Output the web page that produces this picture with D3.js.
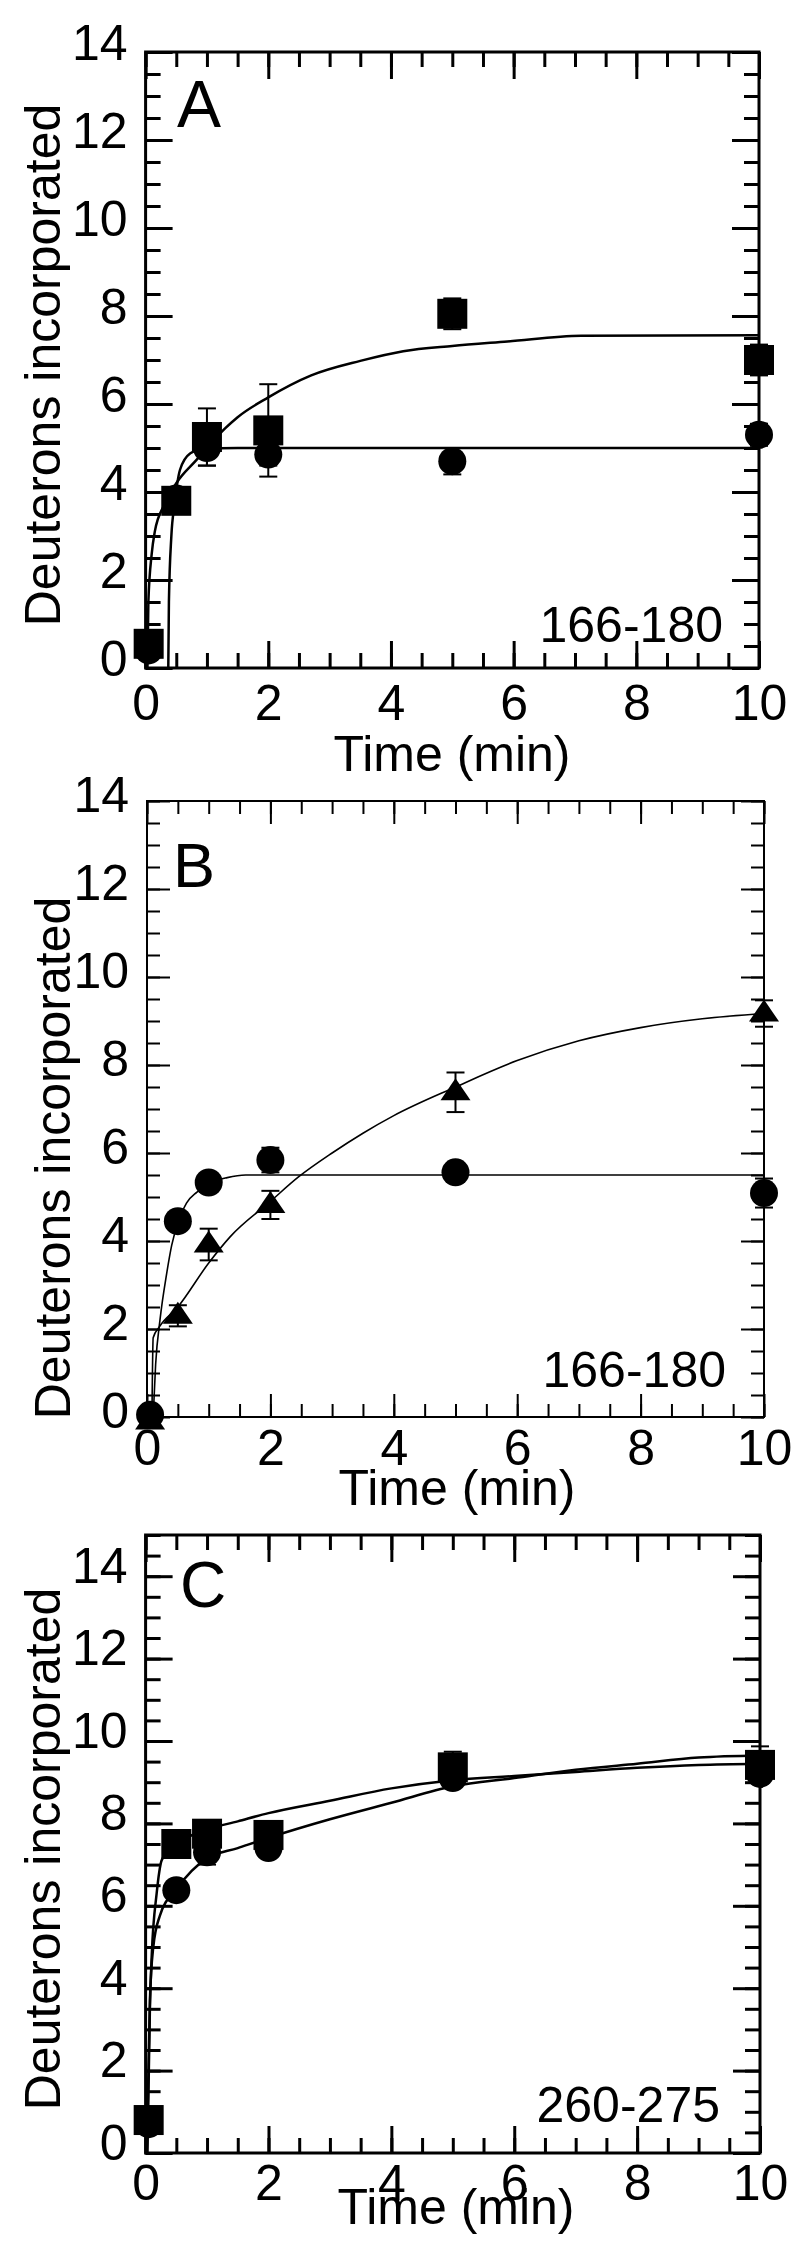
<!DOCTYPE html>
<html>
<head>
<meta charset="utf-8">
<script src="https://cdn.jsdelivr.net/npm/d3@7"></script>
<style>
  body { margin: 0; background: #fff; }
  text { font-family: "Liberation Sans", Arial, Helvetica, sans-serif; fill: #000; }
</style>
</head>
<body>
<div id="chart"></div>
<script>
// ---- data ----
const xTickLabels = [0, 2, 4, 6, 8, 10];
const yTickLabels = [0, 2, 4, 6, 8, 10, 12, 14];

// panel A (166-180)
const timesA = [0.05, 0.5, 1, 2, 5, 10];
const squareA = [0.55, 3.8, 5.25, 5.4, 8.05, 7.0];
const squareAErr = [0.3, 0.25, 0.65, 1.05, 0.35, 0.35];
const circleA = [0.4, 3.85, 5.0, 4.85, 4.7, 5.3];
const circleAErr = [0.2, 0.2, 0.4, 0.25, 0.3, 0.25];
const fitSquareA = [[0.03, 0], [0.045, 1.5], [0.1, 2.6], [0.15, 3.1], [0.3, 3.7], [0.5, 4.2], [0.83, 4.73],
  [1.0, 5.0], [1.3, 5.45], [1.5, 5.7], [2.0, 6.15], [2.7, 6.65], [3.5, 6.98], [4.2, 7.2], [5.0, 7.32],
  [5.9, 7.42], [7.1, 7.55], [10, 7.56]];
const fitCircleA = [[0.37, 0], [0.38, 1.5], [0.42, 3.0], [0.47, 3.7], [0.56, 4.5], [0.73, 4.88],
  [0.94, 4.98], [1.5, 5.0], [10, 5.0]];

// panel B (166-180)
const timesB = [0.05, 0.5, 1, 2, 5, 10];
const circleB = [0.05, 4.45, 5.33, 5.84, 5.56, 5.09];
const circleBErr = [0.1, 0.12, 0.1, 0.28, 0.1, 0.33];
const triangleB = [-0.1, 2.3, 3.92, 4.82, 7.38, 9.17];
const triangleBErr = [0.15, 0.24, 0.36, 0.32, 0.45, 0.3];
const fitCircleB = [[0.1, 0], [0.14, 1.2], [0.21, 2.2], [0.32, 3.27], [0.4, 3.9], [0.5, 4.4], [0.64, 4.86],
  [0.81, 5.11], [1.0, 5.3], [1.3, 5.44], [1.6, 5.5], [10, 5.5]];
const fitTriangleB = [[0.08, 0], [0.1, 1.8], [0.2, 2.05], [0.5, 2.5], [1.0, 3.5], [1.35, 4.1], [2.0, 4.9],
  [2.45, 5.45], [3.0, 6.0], [3.5, 6.45], [4.0, 6.85], [5.0, 7.5], [6.0, 8.1], [7.0, 8.55], [8.0, 8.85],
  [9.0, 9.05], [10, 9.17]];

// panel C (260-275)
const timesC = [0.05, 0.5, 1, 2, 5, 10];
const squareC = [0.8, 7.5, 7.75, 7.72, 9.36, 9.42];
const squareCErr = [0.2, 0.25, 0.3, 0.3, 0.38, 0.45];
const circleC = [0.7, 6.38, 7.3, 7.4, 9.1, 9.2];
const circleCErr = [0.15, 0.15, 0.3, 0.2, 0.2, 0.2];
const fitSquareC = [[0.03, 0], [0.045, 1.3], [0.07, 3.5], [0.1, 4.8], [0.18, 6.3], [0.26, 7.1], [0.4, 7.4],
  [0.6, 7.6], [1.0, 7.85], [1.5, 8.05], [2.0, 8.25], [3.0, 8.55], [4.0, 8.85], [5.0, 9.05], [6.0, 9.15],
  [7.0, 9.25], [8.0, 9.35], [9.0, 9.42], [10, 9.45]];
const fitCircleC = [[0.02, 0], [0.04, 1.5], [0.07, 3.7], [0.125, 5.0], [0.23, 5.75], [0.5, 6.4], [0.75, 6.85],
  [1.0, 7.15], [1.5, 7.4], [2.0, 7.65], [3.0, 8.1], [4.0, 8.5], [5.0, 8.9], [6.0, 9.1], [7.0, 9.3],
  [8.0, 9.45], [9.0, 9.6], [10, 9.65]];

// ---- layout ----
const width = 800, height = 2260;
const svg = d3.select("#chart").append("svg")
    .attr("width", width)
    .attr("height", height);

const panels = [
  { letter: "A", peptide: "166-180", left: 145.6, right: 759, top: 52, bottom: 668, yMax: 14,
    frameW: 3, tickW: 3, major: 27, minor: 15, curveW: 2.5,
    xLabelY: 52, yLabelY: 7, titleX: 452, titleY: 771, yTitleX: 60, yTitleY: 365,
    letterX: 177, letterY: 127, letterSize: 66, pepX: 723, pepY: 642,
    fits: [fitSquareA, fitCircleA],
    series: [
      { shape: "circle", times: timesA, values: circleA, err: circleAErr },
      { shape: "square", times: timesA, values: squareA, err: squareAErr }
    ] },
  { letter: "B", peptide: "166-180", left: 147, right: 764, top: 801, bottom: 1417, yMax: 14,
    frameW: 2, tickW: 2, major: 23, minor: 13, curveW: 1.6,
    xLabelY: 48, yLabelY: 10, titleX: 457, titleY: 1505, yTitleX: 70, yTitleY: 1158,
    letterX: 173, letterY: 887, letterSize: 63, pepX: 726, pepY: 1387,
    fits: [fitCircleB, fitTriangleB],
    series: [
      { shape: "triangle", times: timesB, values: triangleB, err: triangleBErr },
      { shape: "circle", times: timesB, values: circleB, err: circleBErr }
    ] },
  { letter: "C", peptide: "260-275", left: 145.6, right: 760, top: 1535, bottom: 2153, yMax: 15,
    frameW: 3, tickW: 3, major: 27, minor: 15, curveW: 2.5,
    xLabelY: 47, yLabelY: 6, titleX: 456, titleY: 2224, yTitleX: 60, yTitleY: 1849,
    letterX: 180, letterY: 1607, letterSize: 64, pepX: 720, pepY: 2122,
    fits: [fitSquareC, fitCircleC],
    series: [
      { shape: "circle", times: timesC, values: circleC, err: circleCErr },
      { shape: "square", times: timesC, values: squareC, err: squareCErr }
    ] }
];

const minorStep = 0.5;

function styleAxis(sel, w) {
    sel.select(".domain").remove();
    sel.selectAll(".tick line").attr("stroke", "#000").attr("stroke-width", w);
    sel.selectAll("text").style("font-size", "50px").attr("fill", "#000");
}

function drawMarker(g, shape, cx, cy) {
    if (shape === "square") {
        g.append("rect").attr("x", cx - 15).attr("y", cy - 15)
            .attr("width", 30).attr("height", 30).attr("fill", "#000");
    } else if (shape === "circle") {
        g.append("circle").attr("cx", cx).attr("cy", cy).attr("r", 14).attr("fill", "#000");
    } else {
        g.append("path")
            .attr("d", `M${cx},${cy - 14}L${cx + 15},${cy + 8}L${cx - 15},${cy + 8}Z`)
            .attr("fill", "#000");
    }
}

function drawPanel(p) {
    const x = d3.scaleLinear().domain([0, 10]).range([p.left, p.right]);
    const y = d3.scaleLinear().domain([0, p.yMax]).range([p.bottom, p.top]);
    const g = svg.append("g");

    const minorX = d3.range(0, 10 + 1e-9, minorStep);
    const minorY = d3.range(0, p.yMax + 1e-9, minorStep);

    // minor ticks on all four sides (pointing inward)
    g.append("g").attr("transform", `translate(0,${p.bottom})`)
        .call(d3.axisBottom(x).tickValues(minorX).tickSize(-p.minor).tickFormat(""))
        .call(s => styleAxis(s, p.tickW));
    g.append("g").attr("transform", `translate(0,${p.top})`)
        .call(d3.axisTop(x).tickValues(minorX).tickSize(-p.minor).tickFormat(""))
        .call(s => styleAxis(s, p.tickW));
    g.append("g").attr("transform", `translate(${p.left},0)`)
        .call(d3.axisLeft(y).tickValues(minorY).tickSize(-p.minor).tickFormat(""))
        .call(s => styleAxis(s, p.tickW));
    g.append("g").attr("transform", `translate(${p.right},0)`)
        .call(d3.axisRight(y).tickValues(minorY).tickSize(-p.minor).tickFormat(""))
        .call(s => styleAxis(s, p.tickW));

    // major ticks with labels
    const bottomAxis = g.append("g").attr("transform", `translate(0,${p.bottom})`)
        .call(d3.axisBottom(x).tickValues(xTickLabels).tickSize(-p.major).tickFormat(d3.format("d")))
        .call(s => styleAxis(s, p.tickW));
    bottomAxis.selectAll("text").attr("dy", null).attr("y", p.xLabelY);

    g.append("g").attr("transform", `translate(0,${p.top})`)
        .call(d3.axisTop(x).tickValues(xTickLabels).tickSize(-p.major).tickFormat(""))
        .call(s => styleAxis(s, p.tickW));

    const leftAxis = g.append("g").attr("transform", `translate(${p.left},0)`)
        .call(d3.axisLeft(y).tickValues(yTickLabels).tickSize(-p.major).tickPadding(18).tickFormat(d3.format("d")))
        .call(s => styleAxis(s, p.tickW));
    leftAxis.selectAll("text").attr("dy", null).attr("y", p.yLabelY);

    g.append("g").attr("transform", `translate(${p.right},0)`)
        .call(d3.axisRight(y).tickValues(yTickLabels).tickSize(-p.major).tickFormat(""))
        .call(s => styleAxis(s, p.tickW));

    // frame
    g.append("rect")
        .attr("x", p.left).attr("y", p.top)
        .attr("width", p.right - p.left).attr("height", p.bottom - p.top)
        .attr("fill", "none").attr("stroke", "#000").attr("stroke-width", p.frameW);

    // fitted curves
    const line = d3.line()
        .x(d => x(d[0]))
        .y(d => y(d[1]))
        .curve(d3.curveMonotoneX);
    p.fits.forEach(f => {
        g.append("path").attr("d", line(f))
            .attr("fill", "none").attr("stroke", "#000").attr("stroke-width", p.curveW);
    });

    // error bars then markers
    p.series.forEach(s => {
        s.times.forEach((t, i) => {
            const cx = x(t), lo = y(s.values[i] - s.err[i]), hi = y(s.values[i] + s.err[i]);
            g.append("line").attr("x1", cx).attr("x2", cx).attr("y1", lo).attr("y2", hi)
                .attr("stroke", "#000").attr("stroke-width", 2);
            [lo, hi].forEach(v => {
                g.append("line").attr("x1", cx - 9).attr("x2", cx + 9).attr("y1", v).attr("y2", v)
                    .attr("stroke", "#000").attr("stroke-width", 2);
            });
        });
    });
    p.series.forEach(s => {
        s.times.forEach((t, i) => drawMarker(g, s.shape, x(t), y(s.values[i])));
    });

    // texts
    g.append("text")
        .attr("x", p.letterX).attr("y", p.letterY)
        .style("font-size", p.letterSize + "px")
        .text(p.letter);

    g.append("text")
        .attr("x", p.pepX).attr("y", p.pepY)
        .attr("text-anchor", "end")
        .style("font-size", "50px")
        .text(p.peptide);

    g.append("text")
        .attr("x", p.titleX).attr("y", p.titleY)
        .attr("text-anchor", "middle")
        .style("font-size", "50px")
        .text("Time (min)");

    g.append("text")
        .attr("transform", `translate(${p.yTitleX},${p.yTitleY}) rotate(-90)`)
        .attr("text-anchor", "middle")
        .style("font-size", "50px")
        .text("Deuterons incorporated");
}

panels.forEach(drawPanel);
</script>
</body>
</html>
